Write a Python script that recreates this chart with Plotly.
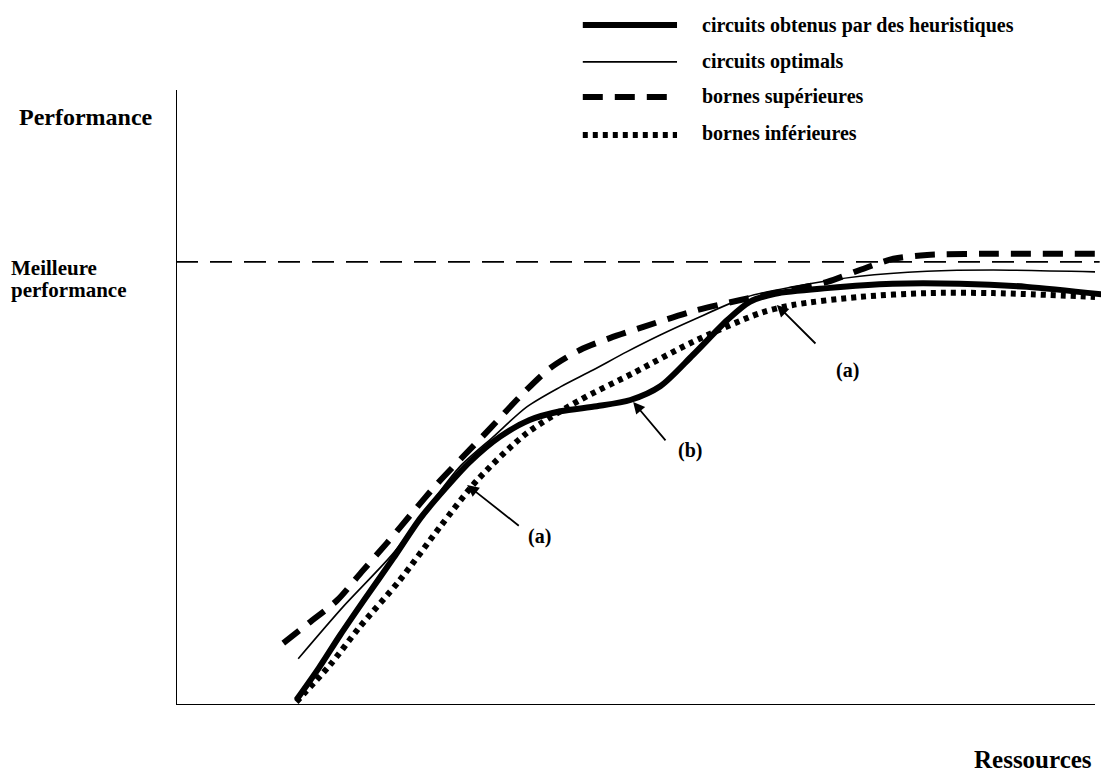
import plotly.graph_objects as go

# ---- data (abstract units: x = ressources 0..100, y = performance) ----
heur_x = [12.9, 15.3, 17.6, 20.3, 23.3, 26.2, 28.9, 31.5, 34.7, 37.9, 41.2, 45.1, 48.7, 51.9, 55.4, 59.1, 61.5, 64.2, 69.8, 76.8, 84.0, 91.2, 99.9]
heur_y = [0.8, 5.9, 11.2, 17.1, 23.5, 29.9, 34.7, 38.9, 42.9, 45.6, 47.0, 47.8, 48.8, 51.0, 56.0, 61.6, 64.5, 65.8, 66.7, 67.4, 67.4, 66.9, 65.6]

opt_x = [13.1, 17.9, 23.3, 27.2, 30.4, 34.0, 37.6, 41.2, 44.7, 48.3, 51.9, 55.4, 61.2, 66.1, 73.3, 80.5, 87.6, 98.5]
opt_y = [7.4, 15.7, 24.3, 32.0, 38.1, 42.9, 47.7, 50.9, 53.6, 56.5, 59.2, 61.6, 65.3, 66.9, 68.6, 69.4, 69.6, 69.3]

sup_x = [11.5, 14.4, 17.3, 19.9, 22.6, 25.3, 28.0, 30.8, 33.7, 36.9, 40.1, 43.3, 46.5, 50.1, 55.4, 60.5, 65.8, 69.8, 73.3, 76.9, 80.5, 87.6, 99.0]
sup_y = [9.9, 13.3, 16.8, 21.3, 25.9, 30.7, 35.4, 39.8, 44.3, 49.4, 53.9, 56.8, 58.7, 60.5, 63.0, 64.8, 66.4, 67.7, 69.6, 71.4, 72.0, 72.2, 72.2]

inf_x = [12.9, 16.5, 19.7, 24.0, 28.3, 32.3, 37.6, 43.3, 49.0, 55.4, 62.6, 66.1, 73.3, 80.5, 87.6, 98.5]
inf_y = [0.5, 6.4, 12.5, 20.0, 28.5, 36.0, 43.5, 48.8, 53.1, 58.1, 62.7, 64.0, 65.3, 65.9, 65.9, 65.3]

best_perf = 70.9
best_x = [0.0, 99.0]

legend_labels = ["circuits obtenus par des heuristiques", "circuits optimals",
                 "bornes supérieures", "bornes inférieures"]

# annotations: (label, head_x, head_y, tail_x, tail_y, text_x, text_y)
arrows = [
    ("(a)", 31.2, 35.2, 36.9, 28.5, 39.0, 26.9),
    ("(b)", 49.0, 48.5, 52.6, 42.1, 55.1, 40.8),
    ("(a)", 64.4, 64.0, 68.7, 57.6, 72.0, 53.6),
]

FONT = "Liberation Serif"
styles = [
    dict(color="black", width=6, dash="solid"),
    dict(color="black", width=1.6, dash="solid"),
    dict(color="black", width=6, dash="20px,12px"),
    dict(color="black", width=6, dash="5px,5px"),
]

fig = go.Figure()
series = [(heur_x, heur_y), (opt_x, opt_y), (sup_x, sup_y), (inf_x, inf_y)]
for (xs, ys), st, name in zip(series, styles, legend_labels):
    fig.add_trace(go.Scatter(x=xs, y=ys, mode="lines", name=name,
                             line=dict(shape="spline", smoothing=0.8, **st),
                             showlegend=False, hoverinfo="skip"))

# best performance line
fig.add_trace(go.Scatter(x=best_x, y=[best_perf, best_perf], mode="lines",
                         line=dict(color="black", width=1.6, dash="22px,12px"),
                         showlegend=False, hoverinfo="skip"))

shapes = []
# axes
shapes.append(dict(type="line", xref="x", yref="y", x0=0, x1=0, y0=0, y1=98.4,
                   line=dict(color="black", width=2)))
shapes.append(dict(type="line", xref="x", yref="y", x0=0, x1=98.5, y0=0, y1=0,
                   line=dict(color="black", width=2)))

# custom legend
leg_line_y = [108.8, 102.9, 97.3, 91.2]
leg_text_y = [108.8, 102.9, 97.3, 91.6]
annotations = []
for st, ly, ty, lab in zip(styles, leg_line_y, leg_text_y, legend_labels):
    shapes.append(dict(type="line", xref="x", yref="y", x0=43.6, x1=53.7, y0=ly, y1=ly,
                       line=dict(color=st["color"], width=st["width"], dash=st["dash"])))
    annotations.append(dict(x=56.2, y=ty, xref="x", yref="y", text="<b>" + lab + "</b>",
                            showarrow=False, xanchor="left", yanchor="middle",
                            font=dict(family=FONT, size=20, color="black")))

for lab, hx, hy, tx, ty, lx, lyy in arrows:
    annotations.append(dict(x=hx, y=hy, ax=tx, ay=ty, xref="x", yref="y", axref="x", ayref="y",
                            text="", showarrow=True, arrowhead=2, arrowsize=1.3, arrowwidth=1.8,
                            arrowcolor="black"))
    annotations.append(dict(x=lx, y=lyy, xref="x", yref="y", text="<b>" + lab + "</b>",
                            showarrow=False, xanchor="center", yanchor="middle",
                            font=dict(family=FONT, size=20, color="black")))

# axis labels (paper coordinates, outside the plotting area)
annotations.append(dict(x=-0.0965, y=0.8436, xref="paper", yref="paper", text="<b>Performance</b>",
                        showarrow=False, xanchor="center", yanchor="middle",
                        font=dict(family=FONT, size=24, color="black")))
annotations.append(dict(x=-0.179, y=0.627, xref="paper", yref="paper", text="<b>Meilleure</b>",
                        showarrow=False, xanchor="left", yanchor="middle",
                        font=dict(family=FONT, size=21, color="black")))
annotations.append(dict(x=-0.179, y=0.5954, xref="paper", yref="paper", text="<b>performance</b>",
                        showarrow=False, xanchor="left", yanchor="middle",
                        font=dict(family=FONT, size=21, color="black")))
annotations.append(dict(x=0.9185, y=-0.0789, xref="paper", yref="paper", text="<b>Ressources</b>",
                        showarrow=False, xanchor="center", yanchor="middle",
                        font=dict(family=FONT, size=25, color="black")))

# page body has an 8px margin: figure is sized 1101x767 so it fills the window
fig.update_layout(
    width=1101, height=767,
    margin=dict(l=168, r=0, t=0, b=70),
    paper_bgcolor="white", plot_bgcolor="white",
    shapes=shapes, annotations=annotations,
    xaxis=dict(range=[0, 100], visible=False, fixedrange=True),
    yaxis=dict(range=[0, 111.52], visible=False, fixedrange=True),
    font=dict(family=FONT, color="black"),
)

fig.write_html("out.html")
